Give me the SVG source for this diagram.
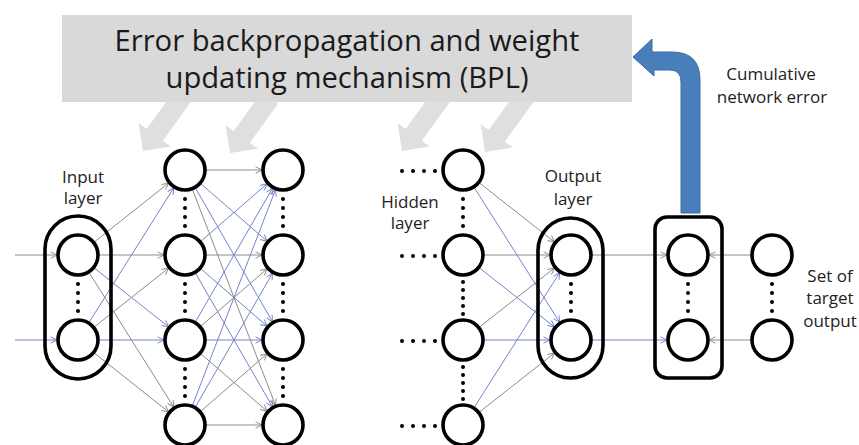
<svg xmlns="http://www.w3.org/2000/svg" width="859" height="445" viewBox="0 0 859 445">
<style>
.node{fill:#fff;stroke:#000;stroke-width:3.6}
.pill{fill:none;stroke:#000;stroke-width:3.6}
.dot{fill:#000}
.b{stroke:#7383cb;stroke-width:1;fill:none;marker-end:url(#mb)}
.g{stroke:#8c8c8c;stroke-width:1;fill:none;marker-end:url(#mg)}
.lbl{font-family:"Open Sans","Noto Sans",sans-serif;font-size:17px;fill:#222;text-anchor:middle}
.title{font-family:"Open Sans","Noto Sans",sans-serif;font-size:30px;fill:#1a1a1a;text-anchor:middle}
.garrow{fill:#dfdfdf}
</style>
<defs>
<marker id="mb" viewBox="0 0 10 10" refX="9" refY="5" markerWidth="8" markerHeight="8" markerUnits="userSpaceOnUse" orient="auto"><path d="M1,1 L9,5 L1,9" fill="none" stroke="#7383cb" stroke-width="1.2"/></marker>
<marker id="mg" viewBox="0 0 10 10" refX="9" refY="5" markerWidth="8" markerHeight="8" markerUnits="userSpaceOnUse" orient="auto"><path d="M1,1 L9,5 L1,9" fill="none" stroke="#8c8c8c" stroke-width="1.2"/></marker>
<polygon id="ga" points="0,0 -20,-20 -20,-10 -68,-10 -68,10 -20,10 -20,20"/>
</defs>

<g id="bpl-arrows">
<use href="#ga" class="garrow" transform="translate(143,151) rotate(126)"/>
<use href="#ga" class="garrow" transform="translate(230,153) rotate(126)"/>
<use href="#ga" class="garrow" transform="translate(402,151) rotate(126)"/>
<use href="#ga" class="garrow" transform="translate(485,152) rotate(126)"/>
</g>

<g id="bpl">
<rect x="62" y="15" width="570" height="87" fill="#d9d9d9"/>
<text class="title" x="347" y="51" textLength="465" lengthAdjust="spacingAndGlyphs">Error backpropagation and weight</text>
<text class="title" x="347" y="88" textLength="363" lengthAdjust="spacingAndGlyphs">updating mechanism (BPL)</text>
</g>

<g id="error-arrow">
<path d="M681,213 L681,82 Q681,70 670,70 L654,70 L654,76 L633,57 L652,39 L652,52 L672,52 Q700,52 700,80 L700,213 Z" fill="#4a7ebb" stroke="#3d6aa6" stroke-width="1"/>
</g>

<g id="connectors">
<line class="g" x1="15" y1="255" x2="57" y2="255"/>
<line class="b" x1="15" y1="340" x2="57" y2="340"/>
<line class="g" x1="94.4" y1="241.9" x2="168.6" y2="183.1"/>
<line class="g" x1="99" y1="255" x2="164" y2="255"/>
<line class="b" x1="94.4" y1="268.1" x2="168.6" y2="326.9"/>
<line class="g" x1="89.2" y1="272.8" x2="173.8" y2="407.2"/>
<line class="b" x1="89.2" y1="322.2" x2="173.8" y2="187.8"/>
<line class="g" x1="94.4" y1="326.9" x2="168.6" y2="268.1"/>
<line class="b" x1="99" y1="340" x2="164" y2="340"/>
<line class="g" x1="94.4" y1="353.1" x2="168.6" y2="411.9"/>
<line class="g" x1="206" y1="170" x2="262" y2="170"/>
<line class="b" x1="200.9" y1="183.8" x2="267.1" y2="241.2"/>
<line class="b" x1="195.5" y1="188.2" x2="272.5" y2="321.8"/>
<line class="g" x1="192.5" y1="189.6" x2="275.5" y2="405.4"/>
<line class="b" x1="200.9" y1="241.2" x2="267.1" y2="183.8"/>
<line class="g" x1="206" y1="255" x2="262" y2="255"/>
<line class="b" x1="200.9" y1="268.8" x2="267.1" y2="326.2"/>
<line class="b" x1="195.5" y1="273.2" x2="272.5" y2="406.8"/>
<line class="b" x1="195.5" y1="321.8" x2="272.5" y2="188.2"/>
<line class="g" x1="200.9" y1="326.2" x2="267.1" y2="268.8"/>
<line class="b" x1="206" y1="340" x2="262" y2="340"/>
<line class="g" x1="200.9" y1="353.8" x2="267.1" y2="411.2"/>
<line class="b" x1="192.5" y1="405.4" x2="275.5" y2="189.6"/>
<line class="b" x1="195.5" y1="406.8" x2="272.5" y2="273.2"/>
<line class="g" x1="200.9" y1="411.2" x2="267.1" y2="353.8"/>
<line class="g" x1="206" y1="425" x2="262" y2="425"/>
<line class="g" x1="479.5" y1="183" x2="554.5" y2="242"/>
<line class="b" x1="474.3" y1="187.7" x2="559.7" y2="322.3"/>
<line class="g" x1="484" y1="255" x2="550" y2="255"/>
<line class="b" x1="479.5" y1="268" x2="554.5" y2="327"/>
<line class="g" x1="479.5" y1="327" x2="554.5" y2="268"/>
<line class="b" x1="484" y1="340" x2="550" y2="340"/>
<line class="b" x1="474.3" y1="407.3" x2="559.7" y2="272.7"/>
<line class="g" x1="479.5" y1="412" x2="554.5" y2="353"/>
<line class="g" x1="592" y1="255" x2="667" y2="255"/>
<line class="b" x1="592" y1="340" x2="667" y2="340"/>
<line class="g" x1="751" y1="255" x2="709" y2="255"/>
<line class="g" x1="751" y1="340" x2="709" y2="340"/>
</g>

<g id="input-layer">
<rect class="pill" x="45" y="216" width="66" height="163" rx="33"/>
<circle class="node" cx="78" cy="255" r="20"/>
<circle class="node" cx="78" cy="340" r="20"/>
<g class="dot"><circle cx="78" cy="284" r="2"/><circle cx="78" cy="293" r="2"/><circle cx="78" cy="302" r="2"/><circle cx="78" cy="311" r="2"/></g>
<text class="lbl" x="83" y="183">Input</text>
<text class="lbl" x="83" y="204">layer</text>
</g>

<g id="hidden-1">
<circle class="node" cx="185" cy="170" r="20"/>
<circle class="node" cx="185" cy="255" r="20"/>
<circle class="node" cx="185" cy="340" r="20"/>
<circle class="node" cx="185" cy="425" r="20"/>
<g class="dot">
<circle cx="185" cy="199" r="2"/><circle cx="185" cy="208" r="2"/><circle cx="185" cy="217" r="2"/><circle cx="185" cy="226" r="2"/>
<circle cx="185" cy="284" r="2"/><circle cx="185" cy="293" r="2"/><circle cx="185" cy="302" r="2"/><circle cx="185" cy="311" r="2"/>
<circle cx="185" cy="369" r="2"/><circle cx="185" cy="378" r="2"/><circle cx="185" cy="387" r="2"/><circle cx="185" cy="396" r="2"/>
</g>
</g>

<g id="hidden-2">
<circle class="node" cx="283" cy="170" r="20"/>
<circle class="node" cx="283" cy="255" r="20"/>
<circle class="node" cx="283" cy="340" r="20"/>
<circle class="node" cx="283" cy="425" r="20"/>
<g class="dot">
<circle cx="283" cy="199" r="2"/><circle cx="283" cy="208" r="2"/><circle cx="283" cy="217" r="2"/><circle cx="283" cy="226" r="2"/>
<circle cx="283" cy="284" r="2"/><circle cx="283" cy="293" r="2"/><circle cx="283" cy="302" r="2"/><circle cx="283" cy="311" r="2"/>
<circle cx="283" cy="369" r="2"/><circle cx="283" cy="378" r="2"/><circle cx="283" cy="387" r="2"/><circle cx="283" cy="396" r="2"/>
</g>
</g>

<g id="hidden-last">
<circle class="node" cx="463" cy="170" r="20"/>
<circle class="node" cx="463" cy="255" r="20"/>
<circle class="node" cx="463" cy="340" r="20"/>
<circle class="node" cx="463" cy="425" r="20"/>
<g class="dot">
<circle cx="463" cy="199" r="2"/><circle cx="463" cy="208" r="2"/><circle cx="463" cy="217" r="2"/><circle cx="463" cy="226" r="2"/>
<circle cx="463" cy="282" r="2"/><circle cx="463" cy="290" r="2"/><circle cx="463" cy="298" r="2"/><circle cx="463" cy="306" r="2"/><circle cx="463" cy="314" r="2"/>
<circle cx="463" cy="367" r="2"/><circle cx="463" cy="375" r="2"/><circle cx="463" cy="383" r="2"/><circle cx="463" cy="391" r="2"/><circle cx="463" cy="399" r="2"/>
<circle cx="402" cy="171" r="2"/><circle cx="413" cy="171" r="2"/><circle cx="424" cy="171" r="2"/><circle cx="435" cy="171" r="2"/>
<circle cx="402" cy="256" r="2"/><circle cx="413" cy="256" r="2"/><circle cx="424" cy="256" r="2"/><circle cx="435" cy="256" r="2"/>
<circle cx="402" cy="341" r="2"/><circle cx="413" cy="341" r="2"/><circle cx="424" cy="341" r="2"/><circle cx="435" cy="341" r="2"/>
<circle cx="402" cy="426" r="2"/><circle cx="413" cy="426" r="2"/><circle cx="424" cy="426" r="2"/><circle cx="435" cy="426" r="2"/>
</g>
<text class="lbl" x="410" y="208">Hidden</text>
<text class="lbl" x="410" y="229">layer</text>
</g>

<g id="output-layer">
<rect class="pill" x="538" y="218" width="65" height="160" rx="32.5"/>
<circle class="node" cx="571" cy="255" r="20"/>
<circle class="node" cx="571" cy="340" r="20"/>
<g class="dot"><circle cx="571" cy="284" r="2"/><circle cx="571" cy="293" r="2"/><circle cx="571" cy="302" r="2"/><circle cx="571" cy="311" r="2"/></g>
<text class="lbl" x="573" y="182">Output</text>
<text class="lbl" x="573" y="205">layer</text>
</g>

<g id="error-layer">
<rect class="pill" x="655" y="217" width="67" height="161" rx="12"/>
<circle class="node" cx="688" cy="255" r="20"/>
<circle class="node" cx="688" cy="340" r="20"/>
<g class="dot"><circle cx="688" cy="284" r="2"/><circle cx="688" cy="293" r="2"/><circle cx="688" cy="302" r="2"/><circle cx="688" cy="311" r="2"/></g>
<text class="lbl" x="771" y="80">Cumulative</text>
<text class="lbl" x="772" y="103">network error</text>
</g>

<g id="target">
<circle class="node" cx="772" cy="255" r="20"/>
<circle class="node" cx="772" cy="340" r="20"/>
<g class="dot"><circle cx="772" cy="284" r="2"/><circle cx="772" cy="293" r="2"/><circle cx="772" cy="302" r="2"/><circle cx="772" cy="311" r="2"/></g>
<text class="lbl" x="830" y="282">Set of</text>
<text class="lbl" x="830" y="304">target</text>
<text class="lbl" x="830" y="327">output</text>
</g>
</svg>
